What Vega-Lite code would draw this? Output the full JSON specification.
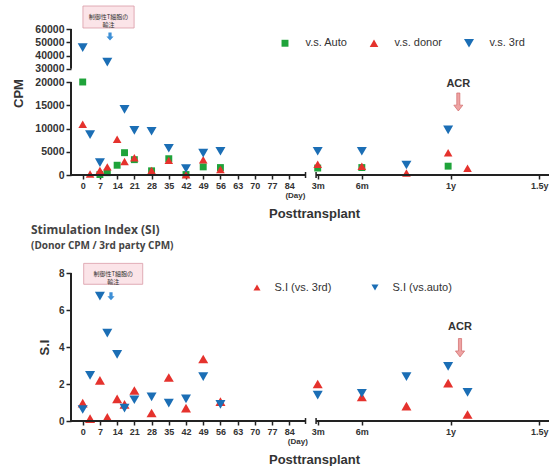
{
  "$schema": "https://vega.github.io/schema/vega-lite/v6.json",
  "padding": {"left": 12, "top": 5, "right": 5, "bottom": 0},
  "background": "white",
  "config": {
    "view": {"stroke": null},
    "axis": {"labelFont": "Liberation Sans", "labelFontWeight": "bold", "labelColor": "#333", "titleFont": "Liberation Sans", "titleFontWeight": "bold", "titleColor": "#333", "tickColor": "#222", "tickWidth": 1.5, "domain": false, "grid": false, "labelBound": false, "labelFlush": false},
    "legend": {"labelFont": "Liberation Sans", "labelColor": "#333", "labelFontSize": 11, "symbolSize": 50, "padding": 0, "symbolStrokeWidth": 0}
  },
  "datasets": {
    "cpm": [
      {"day": 0, "cpm": 20000, "series": "v.s. Auto"},
      {"day": 7, "cpm": 100, "series": "v.s. Auto"},
      {"day": 10, "cpm": 500, "series": "v.s. Auto"},
      {"day": 14, "cpm": 2100, "series": "v.s. Auto"},
      {"day": 17, "cpm": 4800, "series": "v.s. Auto"},
      {"day": 21, "cpm": 3300, "series": "v.s. Auto"},
      {"day": 28, "cpm": 900, "series": "v.s. Auto"},
      {"day": 35, "cpm": 3500, "series": "v.s. Auto"},
      {"day": 42, "cpm": 100, "series": "v.s. Auto"},
      {"day": 49, "cpm": 1750, "series": "v.s. Auto"},
      {"day": 56, "cpm": 1600, "series": "v.s. Auto"},
      {"day": 91, "cpm": 1500, "series": "v.s. Auto"},
      {"day": 182, "cpm": 1600, "series": "v.s. Auto"},
      {"day": 360, "cpm": 1900, "series": "v.s. Auto"},
      {"day": 0, "cpm": 10900, "series": "v.s. donor"},
      {"day": 3, "cpm": 200, "series": "v.s. donor"},
      {"day": 7, "cpm": 1000, "series": "v.s. donor"},
      {"day": 10, "cpm": 1750, "series": "v.s. donor"},
      {"day": 14, "cpm": 7700, "series": "v.s. donor"},
      {"day": 17, "cpm": 2900, "series": "v.s. donor"},
      {"day": 21, "cpm": 3700, "series": "v.s. donor"},
      {"day": 28, "cpm": 950, "series": "v.s. donor"},
      {"day": 35, "cpm": 3150, "series": "v.s. donor"},
      {"day": 42, "cpm": 50, "series": "v.s. donor"},
      {"day": 49, "cpm": 3300, "series": "v.s. donor"},
      {"day": 56, "cpm": 1200, "series": "v.s. donor"},
      {"day": 91, "cpm": 2300, "series": "v.s. donor"},
      {"day": 182, "cpm": 1900, "series": "v.s. donor"},
      {"day": 274, "cpm": 450, "series": "v.s. donor"},
      {"day": 360, "cpm": 4800, "series": "v.s. donor"},
      {"day": 400, "cpm": 1450, "series": "v.s. donor"},
      {"day": 0, "cpm": 46000, "series": "v.s. 3rd"},
      {"day": 3, "cpm": 8700, "series": "v.s. 3rd"},
      {"day": 7, "cpm": 2650, "series": "v.s. 3rd"},
      {"day": 10, "cpm": 35000, "series": "v.s. 3rd"},
      {"day": 17, "cpm": 14100, "series": "v.s. 3rd"},
      {"day": 21, "cpm": 9600, "series": "v.s. 3rd"},
      {"day": 28, "cpm": 9400, "series": "v.s. 3rd"},
      {"day": 35, "cpm": 5750, "series": "v.s. 3rd"},
      {"day": 42, "cpm": 1400, "series": "v.s. 3rd"},
      {"day": 49, "cpm": 4700, "series": "v.s. 3rd"},
      {"day": 56, "cpm": 5100, "series": "v.s. 3rd"},
      {"day": 91, "cpm": 5100, "series": "v.s. 3rd"},
      {"day": 182, "cpm": 5100, "series": "v.s. 3rd"},
      {"day": 274, "cpm": 2150, "series": "v.s. 3rd"},
      {"day": 360, "cpm": 9700, "series": "v.s. 3rd"}
    ],
    "si": [
      {"day": 0, "si": 0.97, "series": "S.I (vs. 3rd)"},
      {"day": 3, "si": 0.13, "series": "S.I (vs. 3rd)"},
      {"day": 7, "si": 2.2, "series": "S.I (vs. 3rd)"},
      {"day": 10, "si": 0.2, "series": "S.I (vs. 3rd)"},
      {"day": 14, "si": 1.2, "series": "S.I (vs. 3rd)"},
      {"day": 17, "si": 0.9, "series": "S.I (vs. 3rd)"},
      {"day": 21, "si": 1.65, "series": "S.I (vs. 3rd)"},
      {"day": 28, "si": 0.43, "series": "S.I (vs. 3rd)"},
      {"day": 35, "si": 2.35, "series": "S.I (vs. 3rd)"},
      {"day": 42, "si": 0.7, "series": "S.I (vs. 3rd)"},
      {"day": 49, "si": 3.35, "series": "S.I (vs. 3rd)"},
      {"day": 56, "si": 1.05, "series": "S.I (vs. 3rd)"},
      {"day": 91, "si": 2.0, "series": "S.I (vs. 3rd)"},
      {"day": 182, "si": 1.3, "series": "S.I (vs. 3rd)"},
      {"day": 274, "si": 0.8, "series": "S.I (vs. 3rd)"},
      {"day": 360, "si": 2.05, "series": "S.I (vs. 3rd)"},
      {"day": 400, "si": 0.35, "series": "S.I (vs. 3rd)"},
      {"day": 0, "si": 0.62, "series": "S.I (vs.auto)"},
      {"day": 3, "si": 2.47, "series": "S.I (vs.auto)"},
      {"day": 7, "si": 6.75, "series": "S.I (vs.auto)"},
      {"day": 10, "si": 4.75, "series": "S.I (vs.auto)"},
      {"day": 14, "si": 3.6, "series": "S.I (vs.auto)"},
      {"day": 17, "si": 0.7, "series": "S.I (vs.auto)"},
      {"day": 21, "si": 1.15, "series": "S.I (vs.auto)"},
      {"day": 28, "si": 1.3, "series": "S.I (vs.auto)"},
      {"day": 35, "si": 0.97, "series": "S.I (vs.auto)"},
      {"day": 42, "si": 1.2, "series": "S.I (vs.auto)"},
      {"day": 49, "si": 2.4, "series": "S.I (vs.auto)"},
      {"day": 56, "si": 0.9, "series": "S.I (vs.auto)"},
      {"day": 91, "si": 1.4, "series": "S.I (vs.auto)"},
      {"day": 182, "si": 1.5, "series": "S.I (vs.auto)"},
      {"day": 274, "si": 2.4, "series": "S.I (vs.auto)"},
      {"day": 360, "si": 2.95, "series": "S.I (vs.auto)"},
      {"day": 400, "si": 1.55, "series": "S.I (vs.auto)"}
    ]
  },
  "spacing": 3,
  "resolve": {"scale": {"x": "independent", "y": "independent", "color": "independent", "shape": "independent", "size": "independent"}},
  "vconcat": [
    {
      "width": 478,
      "height": 146,
      "layer": [
        {
          "data": {"name": "cpm"},
          "mark": {"type": "point", "filled": true, "opacity": 1},
          "encoding": {
            "x": {"field": "day", "type": "quantitative",
              "scale": {"domain": [-4.76, 84, 91, 568], "range": [0, 218.3, 246.7, 478], "nice": false, "zero": false},
              "axis": {"values": [0, 7, 14, 21, 28, 35, 42, 49, 56, 63, 70, 77, 84, 91, 182, 365, 548], "tickCount": 100, "labelExpr": "datum.value == 91 ? '3m' : datum.value == 182 ? '6m' : datum.value == 365 ? '1y' : datum.value == 548 ? '1.5y' : datum.label", "format": "d", "labelOverlap": false, "title": "Posttransplant", "titleFontSize": 13, "titlePadding": 17, "titleX": 243, "labelFontSize": 9, "tickSize": 4, "labelPadding": 2}},
            "y": {"field": "cpm", "type": "quantitative",
              "scale": {"domain": [0, 20000, 60000], "range": [146, 53, 0], "nice": false, "zero": false},
              "axis": {"values": [0, 5000, 10000, 15000, 20000, 30000, 40000, 50000, 60000], "tickCount": 100, "format": "d", "labelOverlap": false, "title": "CPM", "titleFontSize": 13, "titlePadding": 9, "titleY": 64, "labelFontSize": 10.5, "tickSize": 5, "labelPadding": 2}},
            "color": {"field": "series", "type": "nominal",
              "scale": {"domain": ["v.s. Auto", "v.s. donor", "v.s. 3rd"], "range": ["#1fa33a", "#e5322d", "#1b6eb5"]},
              "legend": {"orient": "none", "legendX": 208.5, "legendY": 8.5, "direction": "horizontal", "title": null, "labelOffset": 15, "columnPadding": 21}},
            "shape": {"field": "series", "type": "nominal",
              "scale": {"domain": ["v.s. Auto", "v.s. donor", "v.s. 3rd"], "range": ["square", "triangle-up", "triangle-down"]}},
            "size": {"field": "series", "type": "nominal",
              "scale": {"domain": ["v.s. Auto", "v.s. donor", "v.s. 3rd"], "range": [48, 100, 100]}, "legend": null}
          }
        },
        {"data": {"values": [{}]}, "mark": {"type": "rule", "strokeWidth": 2, "color": "#222"},
         "encoding": {"x": {"datum": -4.76}, "y": {"datum": 0}, "y2": {"datum": 20000}}},
        {"data": {"values": [{}]}, "mark": {"type": "rule", "strokeWidth": 2, "color": "#222"},
         "encoding": {"x": {"datum": -4.76}, "y": {"datum": 30000}, "y2": {"datum": 60000}}},
        {"data": {"values": [{}]}, "mark": {"type": "rule", "strokeWidth": 2, "color": "#222"},
         "encoding": {"x": {"datum": -4.76}, "x2": {"datum": 88}, "y": {"datum": 0}}},
        {"data": {"values": [{}]}, "mark": {"type": "rule", "strokeWidth": 2, "color": "#222"},
         "encoding": {"x": {"datum": 90.6}, "x2": {"datum": 568}, "y": {"datum": 0}}},
        {"data": {"values": [{}]}, "mark": {"type": "rule", "strokeWidth": 1.5, "color": "#222"},
         "encoding": {"x": {"datum": 88}, "y": {"datum": -650}, "y2": {"datum": 650}}},
        {"data": {"values": [{}]}, "mark": {"type": "rule", "strokeWidth": 1.5, "color": "#222"},
         "encoding": {"x": {"datum": 90.6}, "y": {"datum": -650}, "y2": {"datum": 650}}},
        {"data": {"values": [{}]}, "mark": {"type": "rect", "fill": "#fbe4e8", "stroke": "#d99aa6", "strokeWidth": 0.8},
         "encoding": {"x": {"datum": 0.1}, "x2": {"datum": 20.9}, "y": {"datum": 77358}, "y2": {"datum": 60755}}},
        {"data": {"values": [{}]}, "mark": {"type": "text", "text": ["制御性T細胞の", "輸注"], "font": "Noto Sans CJK JP", "fontSize": 6, "lineHeight": 8, "color": "#333", "align": "center", "baseline": "middle"},
         "encoding": {"x": {"datum": 10.5}, "y": {"datum": 69057}}},
        {"data": {"values": [{}]}, "mark": {"type": "point", "shape": "M-0.4,-1L0.4,-1L0.4,0L0.9,0L0,1L-0.9,0L-0.4,0Z", "filled": true, "opacity": 1, "color": "#3d8fd6", "size": 64},
         "encoding": {"x": {"datum": 11.1}, "y": {"datum": 54300}}},
        {"data": {"values": [{}]}, "mark": {"type": "text", "text": "ACR", "font": "Liberation Sans", "fontWeight": "bold", "fontSize": 11, "color": "#333", "align": "center", "baseline": "middle"},
         "encoding": {"x": {"datum": 381}, "y": {"datum": 19630}}},
        {"data": {"values": [{}]}, "mark": {"type": "point", "shape": "M-0.17,-1L0.17,-1L0.17,0.35L0.5,0.35L0,1L-0.5,0.35L-0.17,0.35Z", "filled": true, "opacity": 1, "fill": "#eea3a3", "stroke": "#d06868", "strokeWidth": 0.7, "size": 324},
         "encoding": {"x": {"datum": 381}, "y": {"datum": 15700}}},
        {"data": {"values": [{}]}, "mark": {"type": "text", "text": "(Day)", "font": "Liberation Sans", "fontWeight": "bold", "fontSize": 8, "color": "#333", "align": "center", "baseline": "middle"},
         "encoding": {"x": {"datum": 85.5}, "y": {"datum": -4516}}}
      ]
    },
    {
      "width": 478,
      "height": 148,
      "title": {"text": "Stimulation Index (SI)", "subtitle": "(Donor CPM / 3rd party CPM)", "anchor": "start", "frame": "group", "dx": -40, "font": "Open Sans", "fontSize": 12, "fontWeight": "bold", "color": "#444", "subtitleFont": "Open Sans", "subtitleFontSize": 10, "subtitleFontWeight": "bold", "subtitleColor": "#444", "subtitlePadding": 4, "offset": 11},
      "layer": [
        {
          "data": {"name": "si"},
          "mark": {"type": "point", "filled": true, "opacity": 1, "size": 100},
          "encoding": {
            "x": {"field": "day", "type": "quantitative",
              "scale": {"domain": [-4.76, 84, 91, 568], "range": [0, 218.3, 246.7, 478], "nice": false, "zero": false},
              "axis": {"values": [0, 7, 14, 21, 28, 35, 42, 49, 56, 63, 70, 77, 84, 91, 182, 365, 548], "tickCount": 100, "labelExpr": "datum.value == 91 ? '3m' : datum.value == 182 ? '6m' : datum.value == 365 ? '1y' : datum.value == 548 ? '1.5y' : datum.label", "format": "d", "labelOverlap": false, "title": "Posttransplant", "titleFontSize": 13, "titlePadding": 17, "titleX": 243, "labelFontSize": 9, "tickSize": 4, "labelPadding": 2}},
            "y": {"field": "si", "type": "quantitative",
              "scale": {"domain": [0, 8], "nice": false, "zero": false},
              "axis": {"values": [0, 2, 4, 6, 8], "tickCount": 100, "format": "d", "labelOverlap": false, "title": "S.I", "titleFontSize": 13, "titlePadding": 7, "labelFontSize": 10, "tickSize": 5, "labelPadding": 2}},
            "color": {"field": "series", "type": "nominal",
              "scale": {"domain": ["S.I (vs. 3rd)", "S.I (vs.auto)"], "range": ["#e5322d", "#1b6eb5"]},
              "legend": {"orient": "none", "legendX": 180.5, "legendY": 8.8, "direction": "horizontal", "title": null, "labelOffset": 12, "columnPadding": 38}},
            "shape": {"field": "series", "type": "nominal",
              "scale": {"domain": ["S.I (vs. 3rd)", "S.I (vs.auto)"], "range": ["triangle-up", "triangle-down"]}}
          }
        },
        {"data": {"values": [{}]}, "mark": {"type": "rule", "strokeWidth": 2, "color": "#222"},
         "encoding": {"x": {"datum": -4.76}, "y": {"datum": 0}, "y2": {"datum": 8}}},
        {"data": {"values": [{}]}, "mark": {"type": "rule", "strokeWidth": 2, "color": "#222"},
         "encoding": {"x": {"datum": -4.76}, "x2": {"datum": 88}, "y": {"datum": 0}}},
        {"data": {"values": [{}]}, "mark": {"type": "rule", "strokeWidth": 2, "color": "#222"},
         "encoding": {"x": {"datum": 90.6}, "x2": {"datum": 568}, "y": {"datum": 0}}},
        {"data": {"values": [{}]}, "mark": {"type": "rule", "strokeWidth": 1.5, "color": "#222"},
         "encoding": {"x": {"datum": 88}, "y": {"datum": -0.16}, "y2": {"datum": 0.16}}},
        {"data": {"values": [{}]}, "mark": {"type": "rule", "strokeWidth": 1.5, "color": "#222"},
         "encoding": {"x": {"datum": 90.6}, "y": {"datum": -0.16}, "y2": {"datum": 0.16}}},
        {"data": {"values": [{}]}, "mark": {"type": "rect", "fill": "#fbe4e8", "stroke": "#d99aa6", "strokeWidth": 0.8},
         "encoding": {"x": {"datum": 0.4}, "x2": {"datum": 24.4}, "y": {"datum": 8.52}, "y2": {"datum": 7.39}}},
        {"data": {"values": [{}]}, "mark": {"type": "text", "text": ["制御性T細胞の", "輸注"], "font": "Noto Sans CJK JP", "fontSize": 6, "lineHeight": 8, "color": "#333", "align": "center", "baseline": "middle"},
         "encoding": {"x": {"datum": 12.4}, "y": {"datum": 7.96}}},
        {"data": {"values": [{}]}, "mark": {"type": "point", "shape": "M-0.4,-1L0.4,-1L0.4,0L0.9,0L0,1L-0.9,0L-0.4,0Z", "filled": true, "opacity": 1, "color": "#3d8fd6", "size": 64},
         "encoding": {"x": {"datum": 11.5}, "y": {"datum": 6.74}}},
        {"data": {"values": [{}]}, "mark": {"type": "text", "text": "ACR", "font": "Liberation Sans", "fontWeight": "bold", "fontSize": 11, "color": "#333", "align": "center", "baseline": "middle"},
         "encoding": {"x": {"datum": 384.5}, "y": {"datum": 5.08}}},
        {"data": {"values": [{}]}, "mark": {"type": "point", "shape": "M-0.17,-1L0.17,-1L0.17,0.35L0.5,0.35L0,1L-0.5,0.35L-0.17,0.35Z", "filled": true, "opacity": 1, "fill": "#eea3a3", "stroke": "#d06868", "strokeWidth": 0.7, "size": 340},
         "encoding": {"x": {"datum": 384.5}, "y": {"datum": 3.96}}},
        {"data": {"values": [{}]}, "mark": {"type": "text", "text": "(Day)", "font": "Liberation Sans", "fontWeight": "bold", "fontSize": 8, "color": "#333", "align": "center", "baseline": "middle"},
         "encoding": {"x": {"datum": 86.1}, "y": {"datum": -1.14}}}
      ]
    }
  ]
}
